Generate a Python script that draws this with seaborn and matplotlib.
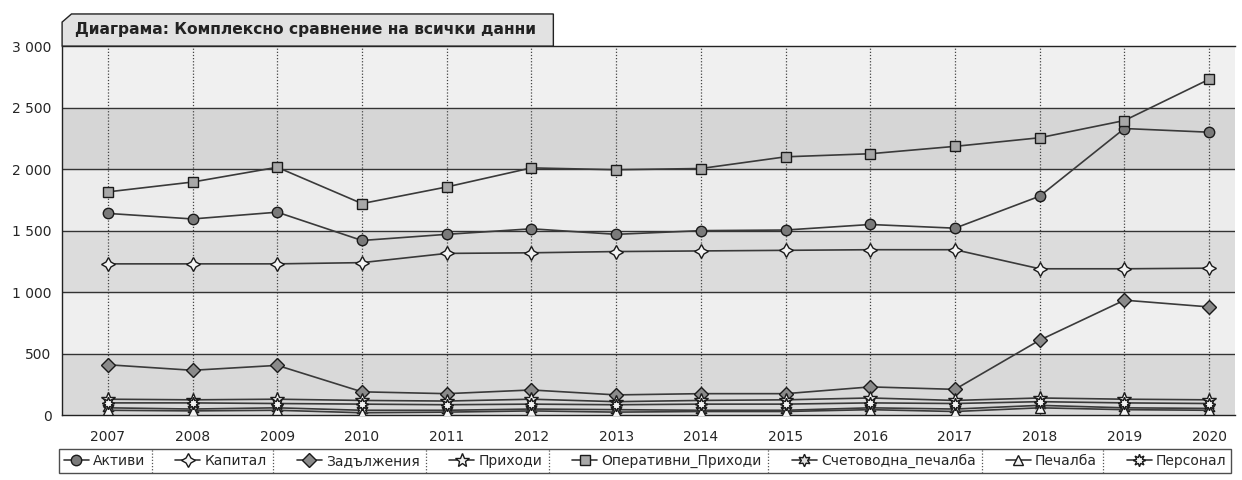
import matplotlib
matplotlib.use("Agg")
import matplotlib.pyplot as plt
from matplotlib.patches import Polygon
import seaborn as sns

godini = list(range(2007, 2021))

aktivi = [1640, 1595, 1650, 1420, 1470, 1515, 1470, 1500, 1505, 1550, 1520, 1780, 2330, 2300]
kapital = [1230, 1230, 1230, 1240, 1315, 1320, 1330, 1335, 1340, 1345, 1345, 1190, 1190, 1195]
zadalzhenia = [410, 365, 405, 190, 175, 205, 165, 175, 175, 230, 210, 610, 935, 880]
prihodi = [130, 125, 130, 120, 115, 130, 110, 120, 125, 140, 120, 140, 130, 125]
operativni = [1815, 1895, 2015, 1720, 1855, 2010, 1995, 2005, 2100, 2125, 2185, 2255, 2395, 2730]
schetovodna = [60, 50, 60, 40, 40, 50, 45, 40, 40, 60, 50, 80, 60, 55]
pechalba = [40, 35, 40, 20, 25, 35, 25, 30, 30, 45, 30, 60, 45, 40]
personal = [100, 100, 95, 90, 85, 90, 85, 90, 90, 100, 95, 110, 100, 95]

serii = {
    "Активи": aktivi,
    "Капитал": kapital,
    "Задължения": zadalzhenia,
    "Приходи": prihodi,
    "Оперативни_Приходи": operativni,
    "Счетоводна_печалба": schetovodna,
    "Печалба": pechalba,
    "Персонал": personal,
}

markeri = {
    "Активи": ("o", "#7a7a7a", 7.5),
    "Капитал": ((4, 1, 0), "#f4f4f4", 10),
    "Задължения": ("D", "#8a8a8a", 7.5),
    "Приходи": ("*", "#f4f4f4", 10),
    "Оперативни_Приходи": ("s", "#a8a8a8", 7.5),
    "Счетоводна_печалба": ((6, 1, 0), "#e0e0e0", 9),
    "Печалба": ("^", "#f4f4f4", 7),
    "Персонал": ((8, 1, 0), "#f4f4f4", 9),
}

sns.set_style("white")
plt.rcParams["font.family"] = ["DejaVu Sans"]

fig = plt.figure(figsize=(12.42, 4.80), dpi=100)
ax = fig.add_axes([0.05, 0.135, 0.944, 0.769])

# ивици на фона
lenti = ["#d9d9d9", "#efefef", "#dcdcdc", "#ececec", "#d6d6d6", "#f0f0f0"]
for i, c in enumerate(lenti):
    ax.axhspan(i * 500, (i + 1) * 500, color=c, zorder=0)

for ime, stoinosti in serii.items():
    m, fc, ms = markeri[ime]
    sns.lineplot(x=godini, y=stoinosti, ax=ax, color="#3a3a3a", linewidth=1.2,
                 marker=m, markersize=ms, markerfacecolor=fc, markeredgecolor="#1a1a1a",
                 markeredgewidth=1.0, label=ime, zorder=3)

ax.set_xlim(2006.46, 2020.3)
ax.set_ylim(0, 3000)
ax.set_xticks(godini)
ax.set_xticklabels([str(g) for g in godini], fontsize=10)
yt = [0, 500, 1000, 1500, 2000, 2500, 3000]
ax.set_yticks(yt)
ax.set_yticklabels([f"{v:,}".replace(",", " ") for v in yt], fontsize=10)
ax.tick_params(axis="both", length=4, color="#222222", direction="out")
ax.tick_params(axis="x", pad=7)
ax.set_xlabel("")
ax.set_ylabel("")

for g in godini:
    ax.axvline(g, color="#444444", linestyle=(0, (1, 1.5)), linewidth=0.9, zorder=1)
for v in yt[1:-1]:
    ax.axhline(v, color="#333333", linewidth=1.0, zorder=1)

for s in ax.spines.values():
    s.set_color("#222222")
    s.set_linewidth(1.0)
ax.spines["right"].set_visible(False)

# кутия за заглавието със скосен ъгъл
kutia = Polygon([(0, 1.0), (0, 1.065), (0.008, 1.087), (0.419, 1.087), (0.419, 1.0)],
                closed=True, transform=ax.transAxes, facecolor="#e2e2e2",
                edgecolor="#222222", linewidth=1.0, clip_on=False, zorder=5)
ax.add_patch(kutia)
ax.text(0.011, 1.044, "Диаграма: Комплексно сравнение на всички данни", transform=ax.transAxes,
        fontsize=11.2, fontweight="bold", color="#222222", va="center", ha="left", zorder=6)

handles, labels = ax.get_legend_handles_labels()
ax.get_legend().remove()
leg = fig.legend(handles, labels, loc="lower left", ncol=8, mode="expand",
                 bbox_to_anchor=(0.042, 0.0, 0.955, 0.05), fontsize=10, frameon=True,
                 handlelength=1.8, handletextpad=0.3, columnspacing=0.8, borderpad=0.35,
                 fancybox=False, edgecolor="#222222", facecolor="white")
leg.get_frame().set_linewidth(1.0)

# вертикални разделители между елементите на легендата
fig.canvas.draw()
rend = fig.canvas.get_renderer()
texts = leg.get_texts()
fb = leg.get_frame().get_window_extent(rend)
for t in texts[:-1]:
    bb = t.get_window_extent(rend)
    x = (bb.x1 + 6) / fig.bbox.width
    fig.add_artist(plt.Line2D([x, x], [fb.y0 / fig.bbox.height, fb.y1 / fig.bbox.height],
                              color="#555555", linestyle=(0, (1, 1.5)), linewidth=0.9,
                              zorder=20))

fig.savefig("out.png", dpi=100, facecolor="white")
